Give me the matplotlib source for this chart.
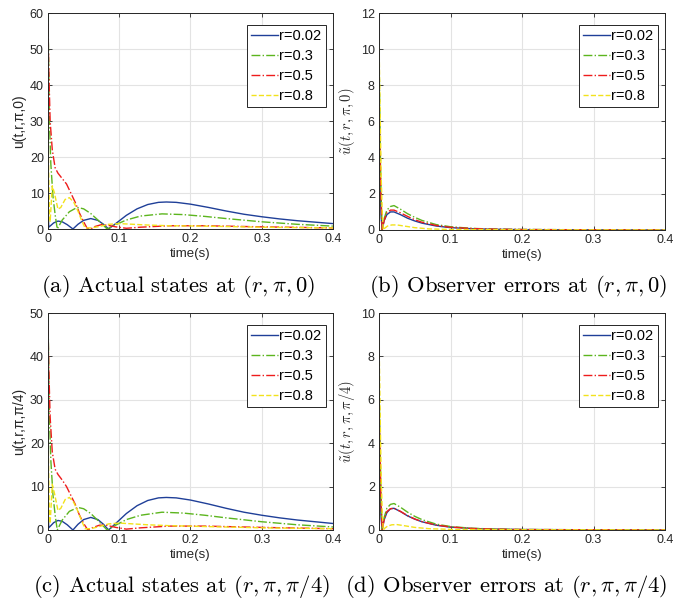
import matplotlib
matplotlib.use("Agg")
import matplotlib.pyplot as plt

plt.rcParams['font.family'] = ['Liberation Sans', 'DejaVu Sans']
plt.rcParams['mathtext.fontset'] = 'cm'

# ---------------- data ----------------
labels = ['r=0.02', 'r=0.3', 'r=0.5', 'r=0.8']

# Panel (a): u(t,r,pi,0)
t_blue_a = [0, 0.001, 0.004, 0.008, 0.014, 0.02, 0.027, 0.035, 0.042, 0.05, 0.06, 0.07, 0.078, 0.085,
            0.095, 0.11, 0.125, 0.14, 0.155, 0.166, 0.18, 0.2, 0.225, 0.25, 0.275, 0.3, 0.325, 0.35, 0.375, 0.4]
u_blue_a = [7, 0.5, 1.0, 1.7, 2.2, 2.0, 1.2, 0, 1.3, 2.4, 2.9, 2.4, 1.3, 0,
            1.5, 3.8, 5.6, 6.8, 7.4, 7.5, 7.4, 6.9, 6.0, 5.0, 4.1, 3.4, 2.8, 2.3, 1.9, 1.5]
t_green_a = [0, 0.001, 0.002, 0.004, 0.007, 0.01, 0.013, 0.02, 0.03, 0.041, 0.05, 0.06, 0.07, 0.083,
             0.095, 0.11, 0.13, 0.16, 0.19, 0.22, 0.25, 0.3, 0.35, 0.4]
u_green_a = [60, 45, 30, 18, 9, 4, 0, 2.5, 4.8, 6.0, 5.6, 4.3, 2.5, 0,
             1.2, 2.5, 3.6, 4.2, 4.0, 3.5, 2.9, 2.0, 1.3, 0.8]
t_red_a = [0, 0.001, 0.003, 0.006, 0.01, 0.014, 0.02, 0.026, 0.032, 0.038, 0.044, 0.05, 0.055, 0.06,
           0.066, 0.075, 0.085, 0.095, 0.11, 0.13, 0.17, 0.22, 0.3, 0.4]
u_red_a = [57, 45, 30, 22, 17, 15.5, 14, 12.5, 10, 7.5, 4.5, 2, 0.2, 0,
           0.7, 1.2, 1.0, 0.6, 0.2, 0.5, 0.9, 0.9, 0.6, 0.3]
t_yellow_a = [0, 0.001, 0.002, 0.003, 0.006, 0.009, 0.014, 0.018, 0.024, 0.03, 0.036, 0.042, 0.048, 0.052,
              0.06, 0.07, 0.085, 0.1, 0.12, 0.14, 0.17, 0.22, 0.3, 0.4]
u_yellow_a = [30, 15, 4, 2, 12, 10, 5.5, 6, 8.2, 8.7, 7.5, 5, 2, 0.3,
              0.3, 0.6, 1.3, 1.5, 1.3, 1.1, 0.9, 0.8, 0.5, 0.3]

# Panel (b): observer error at (r,pi,0)
t_err = [0, 0.001, 0.002, 0.003, 0.0045, 0.007, 0.011, 0.016, 0.021, 0.03, 0.04, 0.05, 0.06, 0.08,
         0.1, 0.13, 0.16, 0.2, 0.3, 0.4]
e_blue_b = [4.7, 3.2, 1.8, 0.7, 0, 0.5, 0.85, 1.0, 1.0, 0.85, 0.65, 0.5, 0.38, 0.22,
            0.13, 0.07, 0.04, 0.02, 0.01, 0]
e_green_b = [10, 7, 4, 1.8, 0, 0.6, 1.1, 1.3, 1.35, 1.15, 0.9, 0.7, 0.53, 0.3,
             0.18, 0.09, 0.05, 0.03, 0.01, 0]
e_red_b = [7, 5, 3, 1.5, 0, 0.5, 0.95, 1.1, 1.1, 0.95, 0.75, 0.57, 0.43, 0.25,
           0.15, 0.08, 0.045, 0.025, 0.01, 0]
t_yerr = [0, 0.001, 0.002, 0.003, 0.0045, 0.006, 0.008, 0.012, 0.018, 0.025, 0.035, 0.05, 0.07, 0.1,
          0.2, 0.4]
e_yellow_b = [10.5, 8, 5.5, 3, 1, 0, 0.1, 0.22, 0.28, 0.28, 0.22, 0.13, 0.06, 0.03, 0.01, 0]

# Panel (c): u(t,r,pi,pi/4)
t_blue_c = t_blue_a
u_blue_c = [6, 0.5, 1.0, 1.7, 2.2, 2.0, 1.2, 0, 1.3, 2.4, 2.9, 2.4, 1.3, 0,
            1.5, 3.8, 5.6, 6.8, 7.4, 7.5, 7.4, 6.9, 6.0, 5.0, 4.1, 3.4, 2.8, 2.3, 1.9, 1.5]
t_green_c = [0, 0.001, 0.002, 0.004, 0.007, 0.01, 0.013, 0.02, 0.03, 0.042, 0.05, 0.06, 0.07, 0.083,
             0.095, 0.11, 0.13, 0.16, 0.19, 0.22, 0.25, 0.3, 0.35, 0.4]
u_green_c = [50, 38, 26, 16, 8, 3.5, 0, 2.3, 4.3, 5.2, 4.9, 3.8, 2.2, 0,
             1.1, 2.4, 3.4, 4.1, 3.9, 3.4, 2.8, 1.9, 1.2, 0.7]
t_red_c = [0, 0.001, 0.003, 0.006, 0.01, 0.014, 0.02, 0.026, 0.032, 0.038, 0.044, 0.05, 0.056, 0.062,
           0.072, 0.082, 0.095, 0.11, 0.13, 0.17, 0.22, 0.3, 0.4]
u_red_c = [47, 38, 26, 18, 14, 12.8, 11.5, 10, 8, 6, 3.5, 1.5, 0, 0.5,
           1.1, 1.1, 0.6, 0.2, 0.5, 0.9, 0.9, 0.6, 0.3]
t_yellow_c = t_yellow_a
u_yellow_c = [25, 12, 3, 1.5, 10.5, 8.5, 4.5, 5, 7, 7.5, 6.4, 4.3, 1.8, 0.3,
              0.3, 0.7, 1.4, 1.6, 1.4, 1.2, 1.0, 0.8, 0.5, 0.3]

# Panel (d): observer error at (r,pi,pi/4)
e_blue_d = [3.5, 2.4, 1.3, 0.5, 0, 0.45, 0.8, 0.98, 1.0, 0.85, 0.65, 0.5, 0.38, 0.22,
            0.13, 0.07, 0.04, 0.02, 0.01, 0]
e_green_d = [7, 5, 3, 1.3, 0, 0.55, 1.0, 1.18, 1.22, 1.05, 0.82, 0.63, 0.48, 0.27,
             0.16, 0.08, 0.045, 0.025, 0.01, 0]
e_red_d = [6, 4.2, 2.5, 1.1, 0, 0.45, 0.85, 0.98, 1.0, 0.86, 0.66, 0.51, 0.39, 0.23,
           0.14, 0.07, 0.04, 0.02, 0.01, 0]
e_yellow_d = [8.8, 6.8, 4.5, 2.5, 0.8, 0, 0.08, 0.18, 0.24, 0.25, 0.2, 0.12, 0.06, 0.03, 0.01, 0]

xticks = [0, 0.1, 0.2, 0.3, 0.4]

# ---------------- styling ----------------
colors = ['#1f3f98', '#5cb51e', '#ee1c1c', '#f2e21c']
styles = ['-', '-.', '-.', '--']
axcol = '#262626'

fig = plt.figure(figsize=(6.86, 6.02), dpi=100)

W, H = 686.0, 602.0
def pos(l, t, r, b):
    return [l / W, 1 - b / H, (r - l) / W, (b - t) / H]

panels = [
    dict(rect=pos(48, 13, 333, 229), ylim=(0, 60), yt=[0, 10, 20, 30, 40, 50, 60],
         ylabel='u(t,r,π,0)', math=False,
         series=[(t_blue_a, u_blue_a), (t_green_a, u_green_a), (t_red_a, u_red_a), (t_yellow_a, u_yellow_a)],
         caption=r'(a) Actual states at $(r,\pi,0)$', cx=178, cy=287),
    dict(rect=pos(379, 13, 665, 230), ylim=(0, 12), yt=[0, 2, 4, 6, 8, 10, 12],
         ylabel=r'$\tilde{u}(t,r,\pi,0)$', math=True,
         series=[(t_err, e_blue_b), (t_err, e_green_b), (t_err, e_red_b), (t_yerr, e_yellow_b)],
         caption=r'(b) Observer errors at $(r,\pi,0)$', cx=518, cy=287),
    dict(rect=pos(48, 313, 333, 530), ylim=(0, 50), yt=[0, 10, 20, 30, 40, 50],
         ylabel='u(t,r,π,π/4)', math=False,
         series=[(t_blue_c, u_blue_c), (t_green_c, u_green_c), (t_red_c, u_red_c), (t_yellow_c, u_yellow_c)],
         caption=r'(c) Actual states at $(r,\pi,\pi/4)$', cx=182, cy=587),
    dict(rect=pos(379, 313, 665, 530), ylim=(0, 10), yt=[0, 2, 4, 6, 8, 10],
         ylabel=r'$\tilde{u}(t,r,\pi,\pi/4)$', math=True,
         series=[(t_err, e_blue_d), (t_err, e_green_d), (t_err, e_red_d), (t_yerr, e_yellow_d)],
         caption=r'(d) Observer errors at $(r,\pi,\pi/4)$', cx=506, cy=587),
]

for p in panels:
    ax = fig.add_axes(p['rect'])
    for (tt, yy), c, ls, lab in zip(p['series'], colors, styles, labels):
        ax.plot(tt, yy, color=c, ls=ls, lw=1.0, label=lab)
    ax.set_xlim(0, 0.4)
    ax.set_ylim(*p['ylim'])
    ax.set_xticks(xticks)
    ax.set_xticklabels(['0', '0.1', '0.2', '0.3', '0.4'])
    ax.set_yticks(p['yt'])
    ax.grid(True, color='#e3e3e3', lw=0.8)
    ax.set_axisbelow(True)
    ax.tick_params(direction='in', length=3, width=0.6, colors=axcol, labelsize=9,
                   top=True, right=True, pad=3)
    for s in ax.spines.values():
        s.set_color(axcol)
        s.set_linewidth(0.7)
    ax.set_xlabel('time(s)', fontsize=9.5, color=axcol, labelpad=2)
    ax.set_ylabel(p['ylabel'], fontsize=10 if not p['math'] else 10.5, color=axcol, labelpad=3)
    leg = ax.legend(loc='upper right', bbox_to_anchor=(0.975, 0.945), fontsize=10.5,
                    fancybox=False, framealpha=1, edgecolor=axcol, borderpad=0.3,
                    labelspacing=0.4, handlelength=1.85, handletextpad=0.1, borderaxespad=0)
    leg.get_frame().set_linewidth(0.7)
    fig.text(p['cx'] / W, 1 - p['cy'] / H, p['caption'], ha='center', va='center',
             fontsize=16.3, family='cmr10')

fig.savefig('out.png', dpi=100)
